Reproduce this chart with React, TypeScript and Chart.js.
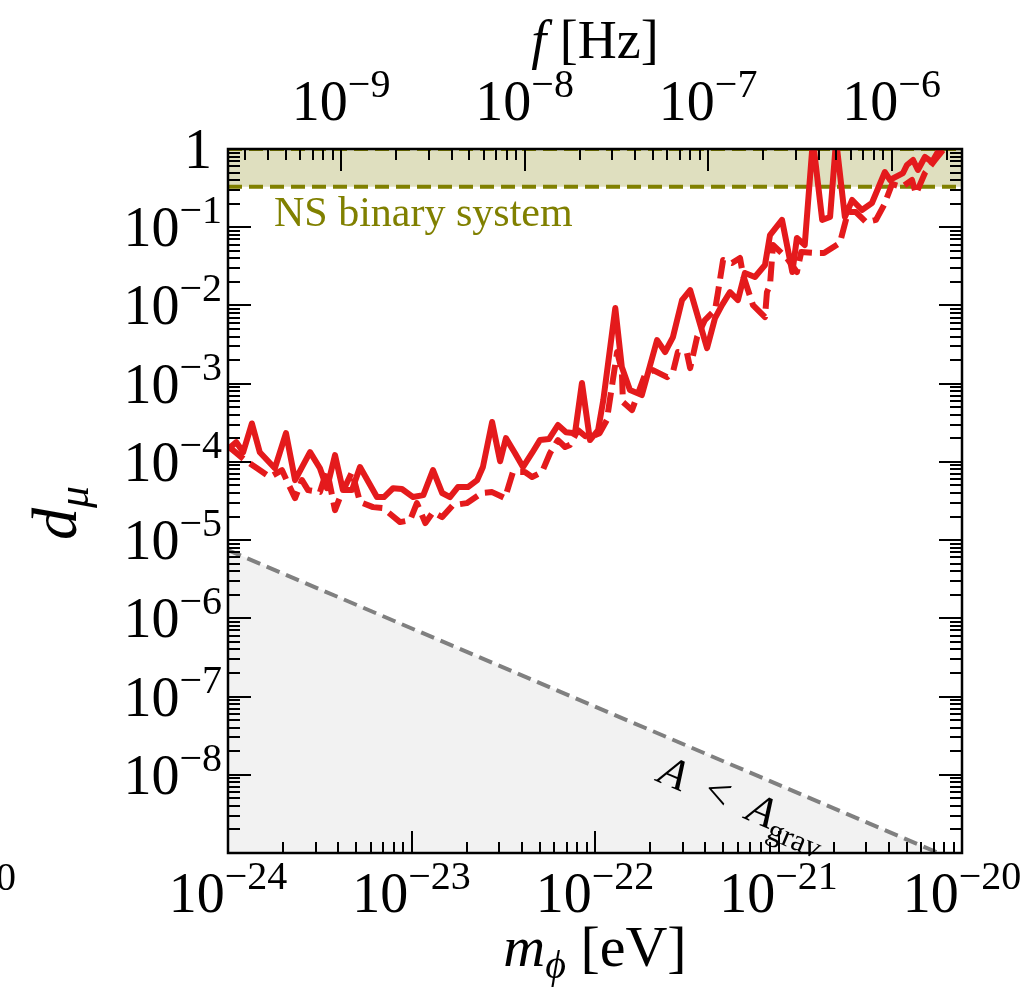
import React, { useEffect, useRef } from "react";
import { Chart, registerables } from "chart.js";

Chart.register(...registerables);

// ---- data ----
const massSolid = [
  1.0e-24, 1.11e-24, 1.21e-24, 1.35e-24, 1.49e-24, 1.8e-24, 2.07e-24, 2.32e-24, 2.8e-24, 3.17e-24,
  3.46e-24, 3.83e-24, 4.23e-24, 4.74e-24, 5.24e-24, 6.48e-24, 7.08e-24, 7.93e-24, 8.87e-24, 1.02e-23,
  1.16e-23, 1.31e-23, 1.47e-23, 1.62e-23, 1.79e-23, 2.03e-23, 2.28e-23, 2.45e-23, 2.75e-23, 3.04e-23,
  3.27e-23, 3.66e-23, 4.05e-23, 4.54e-23, 5.01e-23, 5.61e-23, 6.28e-23, 6.95e-23, 7.78e-23, 8.49e-23,
  9.39e-23, 1.04e-22, 1.11e-22, 1.29e-22, 1.4e-22, 1.55e-22, 1.8e-22, 2.18e-22, 2.41e-22, 2.66e-22,
  2.98e-22, 3.3e-22, 4.08e-22, 4.51e-22, 4.92e-22, 5.44e-22, 6.01e-22, 6.56e-22, 7.44e-22, 8.44e-22,
  8.99e-22, 1.045e-21, 1.19e-21, 1.26e-21, 1.39e-21, 1.54e-21, 1.73e-21, 1.91e-21, 2.06e-21, 2.3e-21,
  2.52e-21, 2.85e-21, 3.23e-21, 3.8e-21, 4.05e-21, 4.77e-21, 5.01e-21, 5.41e-21, 5.75e-21, 6.28e-21,
  6.87e-21, 7.59e-21,
];
const dSolid = [
  1.45e-4, 1.79e-4, 1.33e-4, 3.1e-4, 1.33e-4, 8.3e-5, 2.33e-4, 5.85e-5, 1.33e-4, 8.3e-5,
  4.6e-5, 1.22e-4, 4.36e-5, 4.36e-5, 8.6e-5, 3.55e-5, 3.55e-5, 4.6e-5, 4.5e-5, 3.55e-5,
  3.76e-5, 7.85e-5, 4.0e-5, 3.55e-5, 4.76e-5, 4.76e-5, 5.85e-5, 8.6e-5, 3.23e-4, 1.02e-4,
  2.01e-4, 1.3e-4, 8.6e-5, 1.3e-4, 1.9e-4, 1.96e-4, 2.96e-4, 2.4e-4, 2.33e-4, 1.02e-3,
  1.9e-4, 2.55e-4, 6.17e-4, 9.27e-3, 1.63e-3, 8.28e-4, 7.15e-4, 3.61e-3, 2.54e-3, 3.94e-3,
  1.17e-2, 1.57e-2, 2.85e-3, 6.9e-3, 1.01e-2, 1.48e-2, 1.17e-2, 2.6e-2, 2.31e-2, 3.29e-2,
  7.95e-2, 0.124, 2.67e-2, 7.28e-2, 5.92e-2, 1.3, 0.124, 0.135, 1.3, 0.135,
  0.223, 0.166, 0.204, 0.508, 0.402, 0.493, 0.624, 0.723, 0.539, 0.79,
  0.682, 1.03,
];

const massDashed = [
  1.0e-24, 1.24e-24, 1.44e-24, 1.69e-24, 1.97e-24, 2.12e-24, 2.32e-24, 2.53e-24, 2.73e-24, 3.17e-24,
  3.46e-24, 3.83e-24, 4.08e-24, 4.74e-24, 5.24e-24, 6.17e-24, 7.0e-24, 8.66e-24, 9.82e-24, 1.07e-23,
  1.19e-23, 1.31e-23, 1.47e-23, 1.68e-23, 2.0e-23, 2.42e-23, 2.75e-23, 3.23e-23, 3.57e-23, 4.15e-23,
  4.54e-23, 5.14e-23, 5.69e-23, 6.28e-23, 6.87e-23, 7.31e-23, 8.07e-23, 8.83e-23, 9.39e-23, 1.06e-22,
  1.16e-22, 1.32e-22, 1.4e-22, 1.42e-22, 1.59e-22, 1.87e-22, 2.07e-22, 2.47e-22, 2.66e-22, 2.83e-22,
  3.17e-22, 3.3e-22, 3.6e-22, 3.97e-22, 4.51e-22, 4.68e-22, 4.99e-22, 5.58e-22, 6.17e-22, 6.41e-22,
  7.26e-22, 8.44e-22, 8.65e-22, 8.99e-22, 9.33e-22, 1.11e-21, 1.26e-21, 1.33e-21, 1.58e-21, 1.77e-21,
  2.16e-21, 2.39e-21, 2.64e-21, 3.0e-21, 3.4e-21, 3.76e-21, 4.16e-21, 4.71e-21, 5.34e-21, 5.61e-21,
  6.28e-21, 7.13e-21, 7.87e-21, 8.83e-21,
];
const dDashed = [
  1.59e-4, 1.05e-4, 8.3e-5, 6.4e-5, 7.85e-5, 5.36e-5, 3.44e-5, 5.85e-5, 4.36e-5, 4.11e-5,
  7.85e-5, 2.42e-5, 3.55e-5, 7.41e-5, 3.06e-5, 2.64e-5, 2.56e-5, 1.7e-5, 1.8e-5, 2.97e-5,
  1.65e-5, 2.28e-5, 1.97e-5, 2.8e-5, 2.97e-5, 4.0e-5, 4.11e-5, 3.44e-5, 7.41e-5, 7.41e-5,
  6.4e-5, 7.41e-5, 1.3e-4, 1.9e-4, 1.55e-4, 1.65e-4, 2.55e-4, 2.14e-4, 2.07e-4, 2.33e-4,
  3.43e-4, 2.54e-3, 1.49e-3, 5.82e-4, 4.59e-4, 1.29e-3, 1.49e-3, 1.21e-3, 1.41e-3, 2.54e-3,
  2.46e-3, 1.58e-3, 3.94e-3, 6.5e-3, 8.73e-3, 1.48e-2, 3.81e-2, 3.48e-2, 4.04e-2, 2.45e-2,
  1.01e-2, 7.11e-3, 1.48e-2, 1.82e-2, 5.92e-2, 4.04e-2, 2.67e-2, 4.82e-2, 4.68e-2, 4.68e-2,
  6.28e-2, 0.156, 0.156, 0.116, 0.124, 0.192, 0.357, 0.327, 0.402, 0.266,
  0.493, 0.723, 0.97, 1.12,
];

const nsBandMass = [1e-24, 1e-20];
const nsUpper = [1, 1];
const nsLower = [0.33, 0.33];

const gravMass = [1e-24, 7.45e-21];
const gravD = [7.45e-6, 1e-9];

const xMin = 1e-24;
const xMax = 1e-20;
const yMin = 1e-9;
const yMax = 1;
const EV_TO_HZ = 2.418e14;

const xTickExps = [-24, -23, -22, -21, -20];
const yTickExps = [0, -1, -2, -3, -4, -5, -6, -7, -8];
const fTickExps = [-9, -8, -7, -6];

const SERIF = '"Liberation Serif", "Times New Roman", serif';

type Part = { t: string; font: string; dy?: number };

function partsWidth(ctx: CanvasRenderingContext2D, parts: Part[]) {
  let w = 0;
  for (const p of parts) {
    ctx.font = p.font;
    w += ctx.measureText(p.t).width;
  }
  return w;
}

function drawParts(
  ctx: CanvasRenderingContext2D,
  parts: Part[],
  x: number,
  y: number,
  align: "left" | "center" | "right"
) {
  const w = partsWidth(ctx, parts);
  let cx = align === "left" ? x : align === "center" ? x - w / 2 : x - w;
  ctx.textAlign = "left";
  ctx.textBaseline = "alphabetic";
  for (const p of parts) {
    ctx.font = p.font;
    ctx.fillText(p.t, cx, y + (p.dy || 0));
    cx += ctx.measureText(p.t).width;
  }
}

function powLabel(e: number): Part[] {
  if (e === 0) return [{ t: "1", font: `56px ${SERIF}` }];
  return [
    { t: "10", font: `56px ${SERIF}` },
    { t: (e < 0 ? "\u2212" : "") + Math.abs(e), font: `40px ${SERIF}`, dy: -23 },
  ];
}

function logTicks(min: number, max: number) {
  const out: { v: number; major: boolean }[] = [];
  const e0 = Math.floor(Math.log10(min)) - 1;
  const e1 = Math.ceil(Math.log10(max)) + 1;
  for (let e = e0; e <= e1; e++) {
    for (let k = 1; k <= 9; k++) {
      const v = k * Math.pow(10, e);
      if (v >= min * 0.9999 && v <= max * 1.0001) out.push({ v, major: k === 1 });
    }
  }
  return out;
}

const decorPlugin = {
  id: "decor",
  afterDatasetsDraw(chart: any) {
    const ctx: CanvasRenderingContext2D = chart.ctx;
    const a = chart.chartArea;
    const xs = chart.scales.x;
    const ys = chart.scales.y;
    const fs = chart.scales.xTop;
    ctx.save();
    ctx.strokeStyle = "#000";
    ctx.lineCap = "butt";

    // bottom ticks
    for (const t of logTicks(xs.min, xs.max)) {
      const px = Math.round(xs.getPixelForValue(t.v));
      ctx.lineWidth = 2;
      ctx.beginPath();
      ctx.moveTo(px, a.bottom);
      ctx.lineTo(px, a.bottom - (t.major ? 22 : 11));
      ctx.stroke();
    }
    // top ticks (frequency)
    for (const t of logTicks(fs.min, fs.max)) {
      const px = Math.round(fs.getPixelForValue(t.v));
      ctx.lineWidth = 2;
      ctx.beginPath();
      ctx.moveTo(px, a.top);
      ctx.lineTo(px, a.top + (t.major ? 22 : 11));
      ctx.stroke();
    }
    // left/right ticks
    for (const t of logTicks(ys.min, ys.max)) {
      const py = Math.round(ys.getPixelForValue(t.v));
      const len = t.major ? 23 : 12;
      ctx.lineWidth = 2;
      ctx.beginPath();
      ctx.moveTo(a.left, py);
      ctx.lineTo(a.left + len, py);
      ctx.moveTo(a.right, py);
      ctx.lineTo(a.right - len, py);
      ctx.stroke();
    }
    // frame
    ctx.lineWidth = 2.5;
    ctx.strokeRect(a.left, a.top, a.right - a.left, a.bottom - a.top);

    ctx.fillStyle = "#000";
    // bottom labels
    for (const e of xTickExps) {
      const px = xs.getPixelForValue(Math.pow(10, e));
      drawParts(ctx, powLabel(e), px, a.bottom + 59, "center");
    }
    // left labels
    for (const e of yTickExps) {
      const py = ys.getPixelForValue(Math.pow(10, e));
      drawParts(ctx, powLabel(e), a.left - (e === 0 ? 16 : 6), py + 19, "right");
    }
    // top labels
    for (const e of fTickExps) {
      const px = fs.getPixelForValue(Math.pow(10, e));
      drawParts(ctx, powLabel(e), px, a.top - 29, "center");
    }

    // axis titles
    const cxMid = (a.left + a.right) / 2;
    drawParts(
      ctx,
      [
        { t: "f", font: `italic 54px ${SERIF}` },
        { t: " [Hz]", font: `54px ${SERIF}` },
      ],
      cxMid,
      58,
      "center"
    );
    drawParts(
      ctx,
      [
        { t: "m", font: `italic 58px ${SERIF}` },
        { t: "\u03d5", font: `italic 40px ${SERIF}`, dy: 12 },
        { t: " [eV]", font: `58px ${SERIF}` },
      ],
      cxMid,
      966,
      "center"
    );
    ctx.save();
    ctx.translate(76, (a.top + a.bottom) / 2 + 12);
    ctx.rotate(-Math.PI / 2);
    drawParts(
      ctx,
      [
        { t: "d", font: `italic 64px ${SERIF}` },
        { t: "\u03bc", font: `italic 44px ${SERIF}`, dy: 12 },
      ],
      0,
      0,
      "center"
    );
    ctx.restore();

    // clipped label fragment at the far left
    drawParts(ctx, [{ t: "0", font: `40px ${SERIF}` }], -4, 890, "left");

    // NS annotation
    ctx.fillStyle = "#808000";
    drawParts(ctx, [{ t: "NS binary system", font: `42px ${SERIF}` }], 274, 226, "left");

    // A < A_grav annotation, rotated along the grav line
    const p0x = xs.getPixelForValue(gravMass[0]);
    const p0y = ys.getPixelForValue(gravD[0]);
    const p1x = xs.getPixelForValue(gravMass[1]);
    const p1y = ys.getPixelForValue(gravD[1]);
    const ang = Math.atan2(p1y - p0y, p1x - p0x);
    ctx.fillStyle = "#000";
    ctx.save();
    ctx.translate(656, 781);
    ctx.rotate(ang);
    drawParts(
      ctx,
      [
        { t: "A", font: `italic 44px ${SERIF}` },
        { t: "\u2002<\u2002", font: `44px ${SERIF}` },
        { t: "A", font: `italic 44px ${SERIF}` },
        { t: "grav", font: `31px ${SERIF}`, dy: 9 },
      ],
      0,
      0,
      "left"
    );
    ctx.restore();

    ctx.restore();
  },
};

export default function App() {
  const ref = useRef<HTMLCanvasElement | null>(null);
  useEffect(() => {
    if (!ref.current) return;
    const red = "#e41a1c";
    const chart = new Chart(ref.current, {
      type: "line",
      data: {
        datasets: [
          {
            label: "solid",
            data: massSolid.map((m, i) => ({ x: m, y: dSolid[i] })),
            borderColor: red,
            borderWidth: 6,
            pointRadius: 0,
            fill: false,
            order: 0,
            clip: 0,
            borderJoinStyle: "round",
          },
          {
            label: "dashed",
            data: massDashed.map((m, i) => ({ x: m, y: dDashed[i] })),
            borderColor: red,
            borderWidth: 6,
            borderDash: [20, 8],
            pointRadius: 0,
            fill: false,
            order: 1,
            clip: 0,
            borderJoinStyle: "round",
          },
          {
            label: "nsUpper",
            data: nsBandMass.map((m, i) => ({ x: m, y: nsUpper[i] })),
            borderColor: "#808000",
            borderWidth: 4,
            borderDash: [14, 7],
            pointRadius: 0,
            fill: "+1",
            backgroundColor: "rgba(128,128,0,0.25)",
            order: 3,
            clip: 0,
          },
          {
            label: "nsLower",
            data: nsBandMass.map((m, i) => ({ x: m, y: nsLower[i] })),
            borderColor: "#808000",
            borderWidth: 4,
            borderDash: [14, 7],
            pointRadius: 0,
            fill: false,
            order: 3,
            clip: 0,
          },
          {
            label: "grav",
            data: gravMass.map((m, i) => ({ x: m, y: gravD[i] })),
            borderColor: "#808080",
            borderWidth: 4,
            borderDash: [14, 7],
            pointRadius: 0,
            fill: "start",
            backgroundColor: "rgba(128,128,128,0.1)",
            order: 2,
            clip: 0,
          },
        ] as any,
      },
      options: {
        animation: false,
        responsive: false,
        devicePixelRatio: 1,
        events: [],
        layout: { padding: { left: 228, top: 149, right: 63, bottom: 138 } },
        plugins: { legend: { display: false }, tooltip: { enabled: false } },
        elements: { line: { tension: 0 } },
        scales: {
          x: { type: "logarithmic", min: xMin, max: xMax, display: false },
          xTop: {
            type: "logarithmic",
            axis: "x",
            position: "top",
            min: xMin * EV_TO_HZ,
            max: xMax * EV_TO_HZ,
            display: false,
          },
          y: { type: "logarithmic", min: yMin, max: yMax, display: false },
        } as any,
      },
      plugins: [decorPlugin],
    });
    return () => chart.destroy();
  }, []);
  return (
    <div style={{ position: "absolute", left: 0, top: 0, width: 1025, height: 991, background: "#fff" }}>
      <canvas ref={ref} width={1025} height={991} style={{ display: "block" }} />
    </div>
  );
}
